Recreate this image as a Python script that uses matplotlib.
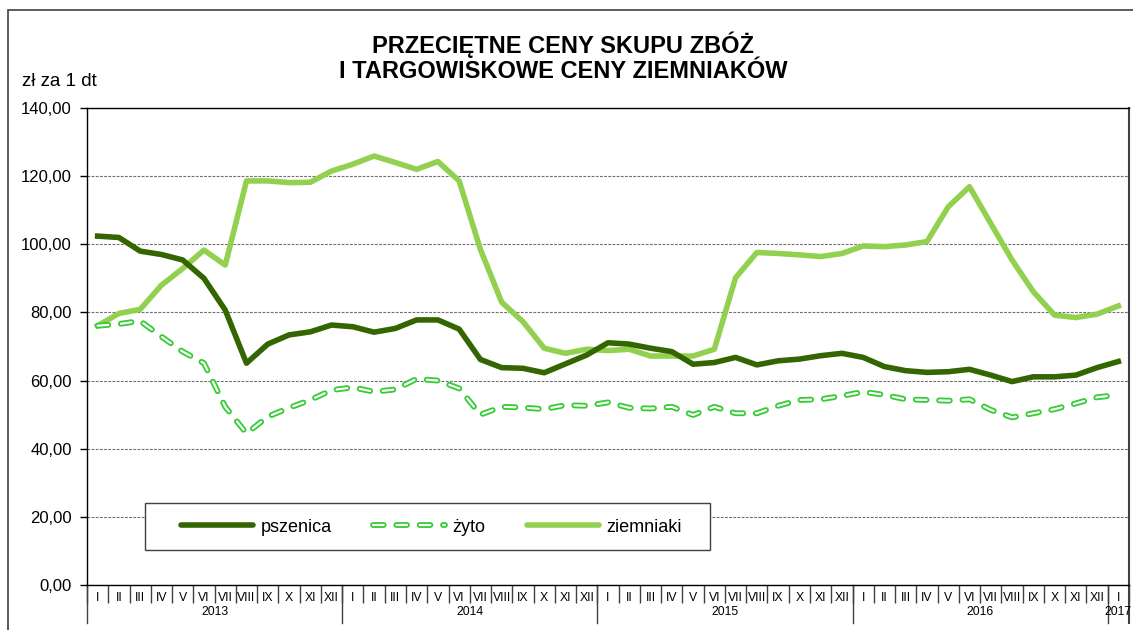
import matplotlib
matplotlib.use("Agg")
import matplotlib.pyplot as plt
import matplotlib.patheffects as pe
from matplotlib.patches import Rectangle
from matplotlib.lines import Line2D

plt.rcParams['font.family'] = ['Liberation Sans', 'DejaVu Sans']
plt.rcParams['lines.scale_dashes'] = False

months = ["I", "II", "III", "IV", "V", "VI", "VII", "VIII", "IX", "X", "XI", "XII"]
years = ["2013", "2014", "2015", "2016", "2017"]
month_labels = months * 4 + ["I"]

pszenica = [102.4, 102.0, 98.0, 97.0, 95.4, 90.0, 80.7, 65.1, 70.7, 73.4, 74.3, 76.3,
            75.8, 74.2, 75.3, 77.8, 77.8, 75.1, 66.2, 63.8, 63.6, 62.3, 64.9, 67.5,
            71.1, 70.7, 69.5, 68.5, 64.8, 65.3, 66.8, 64.6, 65.8, 66.3, 67.3, 68.0,
            66.8, 64.1, 62.9, 62.4, 62.6, 63.3, 61.6, 59.7, 61.1, 61.1, 61.6, 63.8,
            65.6]
zyto = [76.1, 76.6, 77.5, 72.9, 68.5, 65.1, 52.3, 44.5, 49.4, 52.0, 54.3, 57.2,
        58.0, 56.7, 57.4, 60.5, 60.0, 57.7, 50.0, 52.3, 52.1, 51.6, 52.8, 52.6,
        53.6, 52.0, 51.8, 52.3, 49.9, 52.3, 50.4, 50.4, 52.6, 54.3, 54.5, 55.5,
        56.7, 55.8, 54.5, 54.3, 54.1, 54.5, 51.4, 49.2, 50.4, 51.6, 53.3, 55.1,
        55.8]
ziemniaki = [76.1, 79.7, 80.9, 88.0, 92.9, 98.3, 93.9, 118.6, 118.6, 118.1, 118.2, 121.5,
             123.5, 125.9, 124.0, 122.0, 124.3, 118.6, 98.5, 83.0, 77.3, 69.5, 68.0, 69.2,
             68.8, 69.2, 67.2, 67.2, 67.2, 69.2, 90.2, 97.6, 97.3, 96.9, 96.4, 97.3,
             99.5, 99.3, 99.8, 100.8, 111.0, 116.9, 106.1, 95.4, 86.1, 79.2, 78.5, 79.5,
             81.9]
series_names = ["pszenica", "żyto", "ziemniaki"]
yticks = [0, 20, 40, 60, 80, 100, 120, 140]

W, H = 1133, 630
fig = plt.figure(figsize=(W / 100, H / 100), dpi=100)
fig.patch.set_facecolor("white")

L, R, T, B = 87, 1129, 108, 585
ax = fig.add_axes([L / W, (H - B) / H, (R - L) / W, (B - T) / H])

x = [i + 0.5 for i in range(len(pszenica))]

c_psz = "#336600"
c_zyto = "#33CC33"
c_ziem = "#92D050"
LW = 4.0
dash = (0, (7.7, 9.1))
zyto_fx = [pe.Stroke(linewidth=4.2, foreground=c_zyto), pe.Normal()]

ax.plot(x, ziemniaki, color=c_ziem, lw=LW, solid_joinstyle="round", zorder=3)
ax.plot(x, pszenica, color=c_psz, lw=LW, solid_joinstyle="round", zorder=4)
ax.plot(x, zyto, color="white", lw=1.6, linestyle=dash,
        dash_capstyle="round", dash_joinstyle="round", zorder=5, path_effects=zyto_fx)

ax.set_xlim(0, len(x))
ax.set_ylim(0, 140)
ax.set_yticks(yticks)
ax.set_yticklabels([f"{v:.2f}".replace(".", ",") for v in yticks], fontsize=12)
ax.tick_params(axis="y", length=5, width=1, direction="out", pad=6, color="black")
ax.yaxis.grid(True, linestyle=(0, (2, 1)), color="#707070", lw=0.8)
ax.set_axisbelow(True)

for s in ["left", "bottom", "top"]:
    ax.spines[s].set_color("black")
    ax.spines[s].set_linewidth(1.0)
ax.spines["right"].set_color("#404040")
ax.spines["right"].set_linewidth(1.5)

# month separators (major ticks) and labels (minor ticks)
ax.set_xticks(range(0, len(x) + 1))
ax.set_xticklabels([])
ax.tick_params(axis="x", which="major", length=13, width=1.0, color="#404040", direction="out")
ax.set_xticks(x, minor=True)
ax.set_xticklabels(month_labels, minor=True, fontsize=8.8)
ax.tick_params(axis="x", which="minor", length=0, pad=5)

# year separators and labels
trans = ax.get_xaxis_transform()
for k in range(0, len(x), 12):
    ax.add_line(Line2D([k, k], [0, -38 / (B - T)], transform=trans, color="#404040",
                       lw=1.0, clip_on=False))
ax.add_line(Line2D([len(x), len(x)], [0, -38 / (B - T)], transform=trans, color="#404040",
                   lw=1.5, clip_on=False))
for i, yr in enumerate(years):
    start = i * 12
    end = min(start + 12, len(x))
    ax.text((start + end) / 2, -27 / (B - T), yr, transform=trans, ha="center",
            va="center", fontsize=8.8)

# legend box + legend
ax.add_patch(Rectangle((145 / W, 1 - 550 / H), (710 - 145) / W, (550 - 503) / H,
                       transform=fig.transFigure, fill=True, facecolor="white",
                       edgecolor="#404040", lw=1.0, zorder=8, clip_on=False))
handles = [Line2D([], [], color=c_psz, lw=LW, solid_capstyle="round"),
           Line2D([], [], color="white", lw=1.6, linestyle=dash, dash_capstyle="round",
                  path_effects=zyto_fx),
           Line2D([], [], color=c_ziem, lw=LW, solid_capstyle="round")]
leg = ax.legend(handles, series_names, loc="center left",
                bbox_to_anchor=((181 - L) / (R - L), (B - 527) / (B - T)),
                ncol=3, frameon=False, fontsize=13,
                handlelength=4.0, handletextpad=0.4, columnspacing=2.3,
                borderpad=0, borderaxespad=0)
leg.set_zorder(10)

# titles
fig.text(563 / W, 1 - 45 / H, "PRZECIĘTNE CENY SKUPU ZBÓŻ", ha="center", va="center",
         fontsize=17, fontweight="bold")
fig.text(563 / W, 1 - 72 / H, "I TARGOWISKOWE CENY ZIEMNIAKÓW", ha="center", va="center",
         fontsize=17, fontweight="bold")
fig.text(22 / W, 1 - 81 / H, "zł za 1 dt", ha="left", va="center", fontsize=13.5)

# outer frame
fig.patches.append(Rectangle((8 / W, -0.05), 1.1, (H - 10) / H + 0.05, transform=fig.transFigure,
                             fill=False, edgecolor="#404040", lw=1.2))

fig.savefig("out.png", dpi=100)
